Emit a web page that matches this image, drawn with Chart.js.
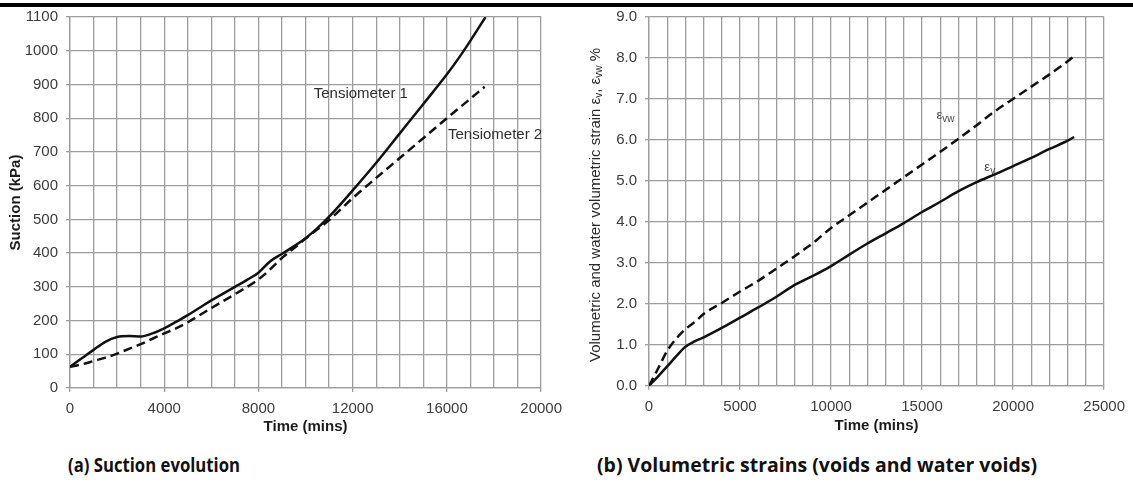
<!DOCTYPE html>
<html>
<head>
<meta charset="utf-8">
<script src="https://cdn.jsdelivr.net/npm/chart.js@4.4.0/dist/chart.umd.min.js"></script>
<style>
  html, body { margin: 0; padding: 0; background: #fff; width: 1133px; height: 488px; overflow: hidden; }
  #topbar { position: absolute; left: 0; top: 3px; width: 1133px; height: 4px; background: #000; }
  #wrapA { position: absolute; left: 0; top: 0; width: 570px; height: 440px; }
  #wrapB { position: absolute; left: 565px; top: 0; width: 568px; height: 440px; }
  .caption { position: absolute; font-family: "Open Sans", sans-serif; font-weight: 700; font-size: 19px;
             line-height: 20px; color: #111; white-space: nowrap; transform-origin: 0 50%; }
</style>
</head>
<body>
<div id="wrapA"><canvas id="chartA" width="570" height="440"></canvas></div>
<div id="wrapB"><canvas id="chartB" width="568" height="440"></canvas></div>
<div id="topbar"></div>
<div class="caption" id="capA" style="left:68px; top:455px;">(a) Suction evolution</div>
<div class="caption" id="capB" style="left:597px; top:455px;">(b) Volumetric strains (voids and water voids)</div>

<script>
// ---- (a) Suction evolution: time (mins) vs suction (kPa) ----
const tens1Time = [0, 500, 1000, 1500, 2000, 2500, 3000, 3500, 4000, 4500, 5000, 5500, 6000, 6500, 7000, 7500,
                   8000, 8500, 9000, 9500, 10000, 10500, 11000, 11500, 12000, 13000, 14000, 15000, 16000, 16500, 17000, 17640];
const tens1Suction = [63, 88, 113, 137, 151, 154, 153, 162, 177, 196, 216, 238, 260, 280, 300, 320,
                      342, 376, 398, 420, 444, 474, 508, 546, 586, 668, 755, 842, 930, 978, 1030, 1100];

const tens2Time = [0, 500, 1000, 1500, 2000, 2500, 3000, 3500, 4000, 4500, 5000, 6000, 7000, 8000, 8500, 9000,
                   9500, 10000, 11000, 12000, 13000, 14000, 15000, 16000, 17000, 17600];
const tens2Suction = [63, 70, 80, 90, 102, 116, 130, 146, 162, 177, 195, 237, 278, 322, 352, 386,
                      414, 443, 498, 563, 623, 682, 741, 800, 858, 893];

// ---- (b) Volumetric strains: time (mins) vs strain (%) ----
const strainTime = [0, 500, 1000, 1500, 2000, 2500, 3000, 4000, 5000, 6000, 7000, 8000, 8500, 9000, 10000,
                    11000, 12000, 13000, 14000, 15000, 16000, 17000, 18000, 19000, 20000, 21000, 22000, 23000, 23350];
const epsV = [0, 0.23, 0.47, 0.72, 0.95, 1.08, 1.18, 1.41, 1.66, 1.91, 2.17, 2.46, 2.57, 2.68, 2.92,
              3.20, 3.47, 3.72, 3.97, 4.24, 4.49, 4.75, 4.97, 5.16, 5.36, 5.56, 5.78, 5.98, 6.07];
const epsVW = [0, 0.42, 0.85, 1.15, 1.38, 1.55, 1.75, 2.02, 2.30, 2.56, 2.86, 3.16, 3.32, 3.48, 3.85,
               4.16, 4.47, 4.78, 5.09, 5.40, 5.71, 6.03, 6.36, 6.70, 7.00, 7.30, 7.60, 7.92, 8.05];

// axis ranges and tick label spacing
const suctionAxis = { xMax: 20000, xLabelEvery: 4000, yMax: 1100, yStep: 100 };
const strainAxis = { xMax: 25000, xLabelEvery: 5000, yMax: 9, yStep: 1 };

// in-plot series labels (anchored in data units)
const suctionLabels = [
  { text: 'Tensiometer 1', x: 10345, y: 872 },
  { text: 'Tensiometer 2', x: 16046, y: 750 }
];
const strainLabels = [
  { main: 'ε', sub: 'vw', x: 15790, y: 6.51 },
  { main: 'ε', sub: 'v', x: 18421, y: 5.25 }
];

const pts = (xs, ys) => xs.map((x, i) => ({ x, y: ys[i] }));

const GRID = '#9d9d9d';
const TICK_TEXT = '#3c3c3c';
const TITLE_TEXT = '#1c1c1c';
const LINE = '#111';
const SANS = '"Liberation Sans", Arial, sans-serif';

function xAxis(cfg, height) {
  return {
    type: 'linear', min: 0, max: cfg.xMax,
    ticks: {
      stepSize: 1000, autoSkip: false, maxRotation: 0, minRotation: 0, padding: 8,
      color: TICK_TEXT, font: { family: SANS, size: 15 },
      callback: v => (v % cfg.xLabelEvery === 0 ? String(v) : '')
    },
    grid: {
      color: GRID, lineWidth: 1.3, tickLength: 4,
      tickColor: c => (c.tick && c.tick.value % cfg.xLabelEvery === 0 ? GRID : 'rgba(0,0,0,0)')
    },
    border: { color: GRID, width: 1.3 },
    title: { display: true, text: 'Time (mins)', color: TITLE_TEXT,
             font: { family: SANS, size: 15, weight: 'bold' }, padding: { top: 0, bottom: 0 } },
    afterFit: s => { s.height = height; }
  };
}

function yAxis(cfg, width, fmt, title) {
  return {
    type: 'linear', min: 0, max: cfg.yMax,
    ticks: { stepSize: cfg.yStep, padding: 8, color: TICK_TEXT, font: { family: SANS, size: 15 }, callback: fmt },
    grid: { color: GRID, lineWidth: 1.3, tickLength: 4, tickColor: GRID },
    border: { color: GRID, width: 1.3 },
    title: title,
    afterFit: s => { s.width = width; }
  };
}

function lineSet(data, dashed) {
  return {
    data, borderColor: LINE, borderWidth: 2.5, pointRadius: 0, fill: false,
    cubicInterpolationMode: 'monotone', borderDash: dashed ? [9, 5] : [], borderCapStyle: 'butt'
  };
}

// draws "ε" with a subscript at a data-anchored position
function drawEps(ctx, x, y, main, sub) {
  ctx.save();
  ctx.fillStyle = '#4a4a4a';
  ctx.textAlign = 'left';
  ctx.textBaseline = 'alphabetic';
  ctx.font = '13px ' + SANS;
  ctx.fillText(main, x, y);
  const w = ctx.measureText(main).width;
  ctx.font = '10px ' + SANS;
  ctx.fillText(sub, x + w, y + 3);
  ctx.restore();
}

const suctionText = {
  id: 'suctionText',
  afterDatasetsDraw(chart) {
    const { ctx, scales: { x, y } } = chart;
    ctx.save();
    ctx.fillStyle = '#2e2e2e';
    ctx.font = '15px ' + SANS;
    ctx.textAlign = 'left';
    ctx.textBaseline = 'middle';
    suctionLabels.forEach(l => ctx.fillText(l.text, x.getPixelForValue(l.x), y.getPixelForValue(l.y)));
    ctx.restore();
  }
};

const strainText = {
  id: 'strainText',
  afterDatasetsDraw(chart) {
    const { ctx, scales: { x, y } } = chart;
    strainLabels.forEach(l => drawEps(ctx, x.getPixelForValue(l.x), y.getPixelForValue(l.y), l.main, l.sub));
  },
  afterDraw(chart) {
    // rotated y-axis title with subscripts
    const { ctx } = chart;
    const segs = [
      { t: 'Volumetric and water volumetric strain ', size: 15, dy: 0 },
      { t: 'ε', size: 15, dy: 0 },
      { t: 'v', size: 10, dy: 3 },
      { t: ', ', size: 15, dy: 0 },
      { t: 'ε', size: 15, dy: 0 },
      { t: 'vw', size: 10, dy: 3 },
      { t: ' %', size: 15, dy: 0 }
    ];
    ctx.save();
    ctx.translate(31, 205);
    ctx.rotate(-Math.PI / 2);
    ctx.fillStyle = '#2a2a2a';
    ctx.textBaseline = 'middle';
    ctx.textAlign = 'left';
    let total = 0;
    segs.forEach(s => { ctx.font = s.size + 'px ' + SANS; s.w = ctx.measureText(s.t).width; total += s.w; });
    let cx = -total / 2;
    segs.forEach(s => { ctx.font = s.size + 'px ' + SANS; ctx.fillText(s.t, cx, s.dy); cx += s.w; });
    ctx.restore();
  }
};

const common = {
  responsive: false, animation: false, devicePixelRatio: 1,
  plugins: { legend: { display: false }, tooltip: { enabled: false } },
  elements: { line: { tension: 0 } }
};

new Chart(document.getElementById('chartA'), {
  type: 'line',
  data: { datasets: [lineSet(pts(tens1Time, tens1Suction), false), lineSet(pts(tens2Time, tens2Suction), true)] },
  options: Object.assign({}, common, {
    layout: { padding: { top: 17, right: 23, left: 0, bottom: 4 } },
    scales: {
      x: xAxis(suctionAxis, 48),
      y: yAxis(suctionAxis, 70, v => String(v), {
        display: true, text: 'Suction (kPa)', color: TITLE_TEXT,
        font: { family: SANS, size: 15, weight: 'bold' }, padding: { top: 7, bottom: 0 }
      })
    }
  }),
  plugins: [suctionText]
});

new Chart(document.getElementById('chartB'), {
  type: 'line',
  data: { datasets: [lineSet(pts(strainTime, epsV), false), lineSet(pts(strainTime, epsVW), true)] },
  options: Object.assign({}, common, {
    layout: { padding: { top: 16, right: 28, left: 0, bottom: 5 } },
    scales: {
      x: xAxis(strainAxis, 49.3),
      y: yAxis(strainAxis, 84, v => v.toFixed(1), { display: false })
    }
  }),
  plugins: [strainText]
});

// caption line widths below each panel
[['capA', 172], ['capB', 440]].forEach(([id, w]) => {
  const el = document.getElementById(id);
  const nat = el.getBoundingClientRect().width;
  el.style.transform = 'scaleX(' + (w / nat).toFixed(4) + ')';
});
</script>
</body>
</html>
